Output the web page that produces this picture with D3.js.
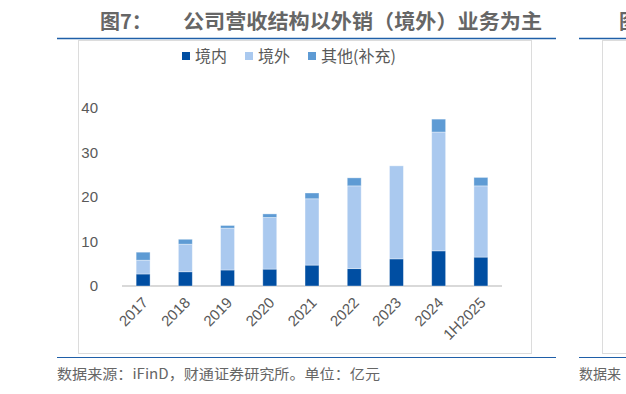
<!DOCTYPE html>
<html>
<head>
<meta charset="utf-8">
<script src="https://cdn.jsdelivr.net/npm/d3@7/dist/d3.min.js"></script>
<style>
  body { margin: 0; background: #fff; }
  svg { display: block; }
</style>
</head>
<body>
<div id="chart"></div>
<script>
// data (亿元)
var years = ['2017', '2018', '2019', '2020', '2021', '2022', '2023', '2024', '1H2025'];
var domestic = [2.7, 3.2, 3.6, 3.8, 4.7, 3.9, 6.1, 7.9, 6.5];
var overseas = [3.1, 6.2, 9.4, 11.6, 14.9, 18.6, 20.9, 26.7, 16.0];
var other = [1.8, 1.1, 0.6, 0.8, 1.3, 1.8, 0, 2.9, 1.9];
var seriesNames = ['境内', '境外', '其他(补充)'];
var yTicks = [0, 10, 20, 30, 40];

var colors = ['#004ea2', '#aac9ef', '#5e9bd4'];
var keys = ['domestic', 'overseas', 'other'];

var rows = years.map(function(y, i) {
    return { year: y, domestic: domestic[i], overseas: overseas[i], other: other[i] };
});

var W = 626, H = 394;
var svg = d3.select('#chart').append('svg')
    .attr('width', W)
    .attr('height', H);

// frame: title rules and chart box
var rule = '#1f5fa8';
svg.append('line').attr('x1', 57).attr('x2', 556).attr('y1', 38.5).attr('y2', 38.5)
    .attr('stroke', rule).attr('stroke-width', 1.5);
svg.append('line').attr('x1', 57).attr('x2', 556).attr('y1', 357.5).attr('y2', 357.5)
    .attr('stroke', rule).attr('stroke-width', 1.2);
svg.append('rect').attr('x', 78.5).attr('y', 40.5).attr('width', 453).attr('height', 313)
    .attr('fill', 'none').attr('stroke', '#dcdcdc').attr('stroke-width', 1);

// neighbouring panel, only its left edge shows
svg.append('line').attr('x1', 579).attr('x2', 626).attr('y1', 38.5).attr('y2', 38.5)
    .attr('stroke', rule).attr('stroke-width', 1.5);
svg.append('line').attr('x1', 579).attr('x2', 626).attr('y1', 357.5).attr('y2', 357.5)
    .attr('stroke', rule).attr('stroke-width', 1.2);
svg.append('rect').attr('x', 602.5).attr('y', 40.5).attr('width', 100).attr('height', 313)
    .attr('fill', 'none').attr('stroke', '#dcdcdc').attr('stroke-width', 1);
svg.append('text').attr('x', 619).attr('y', 22).attr('dy', '0.35em')
    .attr('font-family', 'Noto Sans CJK SC').attr('font-weight', 'bold')
    .attr('font-size', 20).attr('fill', '#666').text('图');
svg.append('text').attr('x', 579).attr('y', 374).attr('dy', '0.35em')
    .attr('font-family', 'Noto Sans CJK SC').attr('font-size', 14)
    .attr('fill', '#666').text('数据来');

// title
svg.append('text').attr('x', 100).attr('y', 22).attr('dy', '0.35em')
    .attr('font-family', 'Noto Sans CJK SC').attr('font-weight', 'bold')
    .attr('font-size', 20).attr('fill', '#666').text('图7：');
svg.append('text').attr('x', 183).attr('y', 22).attr('dy', '0.35em')
    .attr('font-family', 'Noto Sans CJK SC').attr('font-weight', 'bold')
    .attr('font-size', 20).attr('fill', '#666')
    .attr('textLength', 359).attr('lengthAdjust', 'spacingAndGlyphs')
    .text('公司营收结构以外销（境外）业务为主');

// source note
svg.append('text').attr('x', 57).attr('y', 374).attr('dy', '0.35em')
    .attr('font-family', 'Noto Sans CJK SC').attr('font-size', 14)
    .attr('fill', '#666')
    .attr('textLength', 323).attr('lengthAdjust', 'spacingAndGlyphs')
    .text('数据来源：iFinD，财通证券研究所。单位：亿元');

// scales
var xScale = d3.scaleBand()
    .domain(years)
    .range([122, 502])
    .paddingInner(0.67)
    .paddingOuter(0.335);

var yScale = d3.scaleLinear()
    .domain([0, 40])
    .range([286, 108]);

// baseline
svg.append('line')
    .attr('x1', xScale.range()[0]).attr('x2', xScale.range()[1])
    .attr('y1', yScale(0)).attr('y2', yScale(0))
    .attr('stroke', '#d9d9d9').attr('stroke-width', 2);

// stacked bars
var stacked = d3.stack().keys(keys)(rows);

svg.append('g').selectAll('g')
    .data(stacked).enter()
    .append('g')
    .attr('fill', function(d, i) { return colors[i]; })
    .selectAll('rect')
    .data(function(d) { return d.filter(function(s) { return s[1] > s[0]; }); })
    .enter()
    .append('rect')
    .attr('x', function(d) { return xScale(d.data.year); })
    .attr('width', xScale.bandwidth())
    .attr('y', function(d) { return yScale(d[1]); })
    .attr('height', function(d) { return yScale(d[0]) - yScale(d[1]); })
    .attr('stroke', '#ffffff')
    .attr('stroke-opacity', 0.45)
    .attr('stroke-width', 0.8);

// y axis labels
var yAxis = d3.axisLeft(yScale).tickValues(yTicks).tickSize(0).tickPadding(0);
var gy = svg.append('g')
    .attr('transform', 'translate(98,0)')
    .call(yAxis);
gy.select('.domain').remove();
gy.selectAll('text')
    .attr('font-family', 'Liberation Sans, Arial, sans-serif')
    .attr('font-size', 15)
    .attr('fill', '#595959');

// x axis labels, rotated
var xAxis = d3.axisBottom(xScale).tickSize(0).tickPadding(0);
var gx = svg.append('g')
    .attr('transform', 'translate(0,' + yScale(0) + ')')
    .call(xAxis);
gx.select('.domain').remove();
gx.selectAll('text')
    .attr('font-family', 'Liberation Sans, Arial, sans-serif')
    .attr('font-size', 15)
    .attr('fill', '#595959')
    .attr('text-anchor', 'end')
    .attr('dy', '0.35em')
    .attr('transform', 'translate(2,14) rotate(-45)');

// legend
var legendX = [182, 245, 308];
var legend = svg.append('g').selectAll('g')
    .data(seriesNames).enter()
    .append('g')
    .attr('transform', function(d, i) { return 'translate(' + legendX[i] + ',52)'; });
legend.append('rect')
    .attr('width', 8).attr('height', 8)
    .attr('fill', function(d, i) { return colors[i]; });
legend.append('text')
    .attr('x', 13).attr('y', 4).attr('dy', '0.35em')
    .attr('font-family', 'Noto Sans CJK SC')
    .attr('font-size', 16)
    .attr('fill', '#595959')
    .text(function(d) { return d; });
</script>
</body>
</html>
